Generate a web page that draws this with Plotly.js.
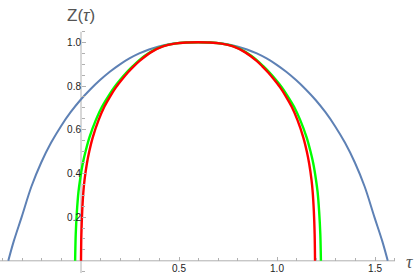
<!DOCTYPE html>
<html>
<head>
<meta charset="utf-8">
<script src="https://cdn.plot.ly/plotly-3.0.1.min.js"></script>
<style>html,body{margin:0;padding:0;background:#fff;}#chart{width:415px;height:278px;}</style>
</head>
<body>
<div id="chart"></div>
<script>
// Blue curve
const blueT = [-0.371,-0.343,-0.303,-0.253,-0.203,-0.153,-0.103,-0.053,-0.003,0.047,0.097,0.147,0.197,0.247,0.297,0.347,0.397,0.447,0.497,0.547,0.597,0.647,0.697,0.747,0.797,0.847,0.897,0.947,0.997,1.047,1.097,1.147,1.197,1.247,1.297,1.347,1.397,1.447,1.497,1.537,1.565];
const blueZ = [0,0.09,0.2,0.34,0.45,0.54,0.615,0.68,0.736,0.784,0.827,0.865,0.898,0.926,0.949,0.967,0.981,0.991,0.9965,0.999,1.0,0.999,0.9965,0.991,0.981,0.967,0.949,0.926,0.898,0.865,0.827,0.784,0.736,0.68,0.615,0.54,0.45,0.34,0.2,0.09,0];
// Green curve
const greenT = [-0.030,-0.027,-0.021,-0.013,-0.005,0.009,0.023,0.043,0.076,0.107,0.139,0.170,0.201,0.232,0.263,0.293,0.354,0.415,0.476,0.536,0.597,0.658,0.718,0.779,0.840,0.901,0.931,0.962,0.993,1.024,1.055,1.087,1.118,1.151,1.171,1.185,1.199,1.207,1.215,1.221,1.224];
const greenZ = [0,0.12,0.225,0.315,0.37,0.445,0.5,0.565,0.645,0.705,0.753,0.795,0.83,0.862,0.89,0.915,0.955,0.981,0.994,0.999,1.0,0.999,0.994,0.981,0.955,0.915,0.89,0.862,0.83,0.795,0.753,0.705,0.645,0.565,0.5,0.445,0.37,0.315,0.225,0.12,0];
// Red curve
const redT = [0.0,0.0018,0.006,0.012,0.018,0.030,0.042,0.060,0.090,0.119,0.149,0.179,0.209,0.239,0.269,0.299,0.358,0.418,0.478,0.537,0.597,0.657,0.716,0.776,0.836,0.896,0.925,0.955,0.985,1.015,1.045,1.075,1.104,1.134,1.152,1.164,1.176,1.182,1.188,1.192,1.194];
const redZ = [0,0.12,0.225,0.315,0.37,0.445,0.5,0.565,0.645,0.705,0.753,0.795,0.83,0.862,0.89,0.915,0.955,0.981,0.994,0.999,1.0,0.999,0.994,0.981,0.955,0.915,0.89,0.862,0.83,0.795,0.753,0.705,0.645,0.565,0.5,0.445,0.37,0.315,0.225,0.12,0];
// Ticks
const xTickVals = [0.5,1.0,1.5];
const xTickText = ["0.5","1.0","1.5"];
const xMinor = [-0.4,-0.3,-0.2,-0.1,0.1,0.2,0.3,0.4,0.6,0.7,0.8,0.9,1.1,1.2,1.3,1.4,1.6];
const yTickVals = [0.2,0.4,0.6,0.8,1.0];
const yTickText = ["0.2","0.4","0.6","0.8","1.0"];
const yMinor = [-0.05,0.05,0.1,0.15,0.25,0.3,0.35,0.45,0.5,0.55,0.65,0.7,0.75,0.85,0.9,0.95,1.05];

const axisColor = '#b0b0b0';
const traces = [
  {x: blueT, y: blueZ, mode: 'lines', line: {color: '#5E81B5', width: 2, shape: 'spline', smoothing: 1}, hoverinfo: 'skip'},
  {x: greenT, y: greenZ, mode: 'lines', line: {color: '#00FF00', width: 2.4, shape: 'spline', smoothing: 0.8}, hoverinfo: 'skip'},
  {x: redT, y: redZ, mode: 'lines', line: {color: '#FF0000', width: 2.4, shape: 'spline', smoothing: 0.8}, hoverinfo: 'skip'}
];
const layout = {
  width: 415, height: 278,
  margin: {l: 0, r: 0, t: 0, b: 0},
  paper_bgcolor: '#fff', plot_bgcolor: '#fff',
  showlegend: false,
  font: {family: 'Liberation Sans, Arial, sans-serif', size: 10, color: '#222'},
  xaxis: {
    range: [-0.4133, 1.704], anchor: 'free', position: 0.0619,
    showgrid: false, zeroline: false, showline: false,
    tickmode: 'array', tickvals: xTickVals, ticktext: xTickText,
    ticks: 'inside', ticklen: 4, tickwidth: 1, tickcolor: axisColor,
    minor: {tickmode: 'array', tickvals: xMinor, ticks: 'inside', ticklen: 2.5, tickwidth: 1, tickcolor: axisColor, showgrid: false},
    tickfont: {size: 10, color: '#222'}
  },
  yaxis: {
    range: [-0.0787, 1.1936], anchor: 'free', position: 0.1952,
    showgrid: false, zeroline: false, showline: false,
    tickmode: 'array', tickvals: yTickVals, ticktext: yTickText,
    ticks: 'inside', ticklen: 4, tickwidth: 1, tickcolor: axisColor,
    minor: {tickmode: 'array', tickvals: yMinor, ticks: 'inside', ticklen: 2.5, tickwidth: 1, tickcolor: axisColor, showgrid: false},
    tickfont: {size: 10, color: '#222'}
  },
  shapes: [
    {type: 'line', xref: 'x', yref: 'y', x0: -0.4133, x1: 1.602, y0: 0, y1: 0, line: {color: axisColor, width: 1}, layer: 'below'},
    {type: 'line', xref: 'x', yref: 'y', x0: 0, x1: 0, y0: -0.056, y1: 1.048, line: {color: axisColor, width: 1}, layer: 'below'}
  ],
  annotations: [
    {text: 'Z(<i>τ</i>)', xref: 'paper', yref: 'paper', x: 81/415, y: 1 - 15/278, xanchor: 'center', yanchor: 'middle', showarrow: false, font: {size: 17, color: '#555', family: 'Liberation Sans, Arial, sans-serif'}},
    {text: '<i>τ</i>', xref: 'paper', yref: 'paper', x: 409/415, y: 1 - 262/278, xanchor: 'center', yanchor: 'middle', showarrow: false, font: {size: 18, color: '#555', family: 'Liberation Serif, serif'}}
  ]
};
Plotly.newPlot('chart', traces, layout, {staticPlot: true, displayModeBar: false});
</script>
</body>
</html>
